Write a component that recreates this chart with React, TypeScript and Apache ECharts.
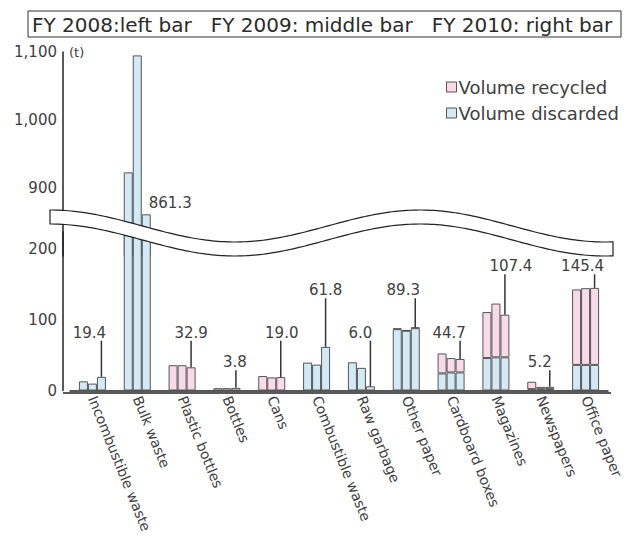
import React, { useEffect, useRef } from "react";
import * as echarts from "echarts";

const categories = [
  "Incombustible waste",
  "Bulk waste",
  "Plastic bottles",
  "Bottles",
  "Cans",
  "Combustible waste",
  "Raw garbage",
  "Other paper",
  "Cardboard boxes",
  "Magazines",
  "Newspapers",
  "Office paper",
];

const discarded2008 = [13.0, 923, 0, 0, 0, 39.5, 40.0, 86.9, 24.2, 46.0, 1.9, 36.3];
const discarded2009 = [9.8, 1095, 0, 0, 0, 36.7, 32.1, 84.6, 25.6, 47.0, 1.9, 36.3];
const discarded2010 = [19.4, 861.3, 0, 0, 0, 61.8, 6.0, 88.3, 25.6, 47.0, 2.0, 36.3];

const recycled2008 = [0, 0, 35.8, 3.3, 20.5, 0, 0, 1.0, 28.3, 65.1, 10.5, 106.9];
const recycled2009 = [0, 0, 35.8, 3.3, 18.6, 0, 0, 1.0, 20.4, 76.2, 3.3, 108.7];
const recycled2010 = [0, 0, 32.9, 3.8, 19.0, 0, 0, 1.0, 19.1, 60.4, 3.2, 109.1];

const lowerTicks = [0, 100, 200];
const upperTicks = [900, 1000, 1100];

const titleText = "FY 2008:left bar   FY 2009: middle bar   FY 2010: right bar";

// layout (callout heights in data units, horizontal nudges in px)
const calloutLevel: (number | null)[] = [82, null, 82, 40, 82, 142, 82, 142, 82, 176, 40, 176];
const calloutDx = [-12, 0, 0, -1, 1, 0, -10, -12, -11, 6, -10, -12];

const BLUE = "#d3eaf6";
const PINK = "#f8dbe7";
const BORDER = "#555555";
const TEXT = "#404040";
const FONT = "DejaVu Sans";
const BAR_W = 9;
const UPPER_MIN = 800;
const LOWER_MAX = 224.5;

export default function App() {
  const ref = useRef<HTMLDivElement>(null);

  useEffect(() => {
    if (!ref.current) return;
    const chart = echarts.init(ref.current, null, { renderer: "svg" });

    const years = [
      { key: "2008", d: discarded2008, r: recycled2008 },
      { key: "2009", d: discarded2009, r: recycled2009 },
      { key: "2010", d: discarded2010, r: recycled2010 },
    ];
    const nz = (a: number[]) => a.map((v) => (v > 0 ? v : "-"));

    const upperSeries = years.map((y, k) => ({
      type: "bar",
      name: "Volume discarded",
      xAxisIndex: 1,
      yAxisIndex: 1,
      barWidth: BAR_W,
      barGap: "0%",
      clip: true,
      data: y.d.map((v) => (v > UPPER_MIN ? v : "-")),
      itemStyle: { color: BLUE, borderColor: BORDER, borderWidth: 1 },
      label:
        k === 2
          ? {
              show: true,
              position: [7, -19],
              formatter: (p: any) => Number(p.value).toFixed(1),
              fontFamily: FONT,
              fontSize: 15,
              color: TEXT,
            }
          : { show: false },
    }));

    const lowerSeries: any[] = [];
    years.forEach((y) => {
      lowerSeries.push({
        type: "bar",
        name: "Volume discarded",
        stack: "s" + y.key,
        xAxisIndex: 0,
        yAxisIndex: 0,
        barWidth: BAR_W,
        barGap: "0%",
        clip: true,
        data: nz(y.d),
        itemStyle: { color: BLUE, borderColor: BORDER, borderWidth: 1 },
      });
      lowerSeries.push({
        type: "bar",
        name: "Volume recycled",
        stack: "s" + y.key,
        xAxisIndex: 0,
        yAxisIndex: 0,
        barWidth: BAR_W,
        barGap: "0%",
        clip: true,
        data: nz(y.r),
        itemStyle: { color: PINK, borderColor: BORDER, borderWidth: 1 },
      });
    });

    const totals2010 = discarded2010.map((v, i) => v + recycled2010[i]);
    const calloutData = categories
      .map((_, i) => [i, totals2010[i], calloutLevel[i]])
      .filter((d) => d[2] !== null);

    const calloutSeries = {
      type: "custom",
      name: "callouts",
      xAxisIndex: 0,
      yAxisIndex: 0,
      silent: true,
      clip: false,
      z: 10,
      data: calloutData,
      encode: { x: 0, y: 1 },
      renderItem: (params: any, api: any) => {
        const i = api.value(0);
        const total = api.value(1);
        const level = api.value(2);
        const top = api.coord([i, total]);
        const lab = api.coord([i, level]);
        const x = top[0] + BAR_W;
        return {
          type: "group",
          children: [
            {
              type: "line",
              shape: { x1: x, y1: lab[1] + 8, x2: x, y2: top[1] },
              style: { stroke: "#333", lineWidth: 1.5 },
            },
            {
              type: "text",
              x: x + calloutDx[i],
              y: lab[1],
              style: {
                text: Number(total).toFixed(1),
                fill: TEXT,
                fontFamily: FONT,
                fontSize: 15,
                align: "center",
                verticalAlign: "middle",
              },
            },
          ],
        };
      },
    };

    // wave (axis break) outline
    const waveTop = (x: number) => 226 - 16 * Math.cos((2 * Math.PI * (x - 50)) / 370);
    const topPts: number[][] = [];
    const botPts: number[][] = [];
    for (let x = 50; x <= 613; x += 3) {
      topPts.push([x, waveTop(x)]);
      botPts.push([x, waveTop(x) + 14]);
    }
    topPts.push([613, waveTop(613)]);
    botPts.push([613, waveTop(613) + 14]);
    const poly = topPts.concat(botPts.slice().reverse());

    const commaFmt = (v: number) => v.toLocaleString("en-US");

    chart.setOption({
      animation: false,
      backgroundColor: "#ffffff",
      textStyle: { fontFamily: FONT },
      legend: {
        data: ["Volume recycled", "Volume discarded"],
        orient: "vertical",
        left: 446,
        top: 78,
        padding: 0,
        itemWidth: 10,
        itemHeight: 10,
        itemGap: 8,
        icon: "rect",
        selectedMode: false,
        itemStyle: { borderColor: BORDER, borderWidth: 1 },
        textStyle: { fontFamily: FONT, fontSize: 18, color: TEXT, lineHeight: 17, padding: [0, 0, 0, -3] },
      },
      grid: [
        { left: 70, right: 22, top: 393 - LOWER_MAX * 0.717, height: LOWER_MAX * 0.717 },
        { left: 70, right: 22, top: 52, height: 204 },
      ],
      xAxis: [
        {
          type: "category",
          gridIndex: 0,
          data: categories,
          axisLine: { lineStyle: { color: "#222", width: 1.5 } },
          axisTick: { show: false },
          axisLabel: {
            interval: 0,
            rotate: -68,
            margin: 6,
            fontFamily: FONT,
            fontSize: 14,
            color: TEXT,
          },
        },
        { type: "category", gridIndex: 1, data: categories, show: false },
      ],
      yAxis: [
        {
          type: "value",
          gridIndex: 0,
          min: lowerTicks[0],
          max: LOWER_MAX,
          interval: lowerTicks[1] - lowerTicks[0],
          offset: 7,
          axisLine: { show: true, lineStyle: { color: "#222", width: 1.5 } },
          axisTick: { show: false },
          splitLine: { show: false },
          axisLabel: {
            margin: 6,
            fontFamily: FONT,
            fontSize: 15,
            color: TEXT,
            showMaxLabel: false,
            formatter: (v: number) => (lowerTicks.includes(v) ? commaFmt(v) : ""),
          },
        },
        {
          type: "value",
          gridIndex: 1,
          min: UPPER_MIN,
          max: upperTicks[upperTicks.length - 1],
          interval: 100,
          offset: 7,
          name: "(t)",
          nameLocation: "end",
          nameGap: 0,
          nameTextStyle: {
            align: "left",
            verticalAlign: "middle",
            padding: [0, 0, 0, 6],
            fontFamily: FONT,
            fontSize: 13,
            color: TEXT,
          },
          axisLine: { show: true, lineStyle: { color: "#222", width: 1.5 } },
          axisTick: { show: false },
          splitLine: { show: false },
          axisLabel: {
            margin: 6,
            fontFamily: FONT,
            fontSize: 15,
            color: TEXT,
            showMinLabel: false,
            formatter: (v: number) => (upperTicks.includes(v) ? commaFmt(v) : ""),
          },
        },
      ],
      series: [...upperSeries, ...lowerSeries, calloutSeries],
      graphic: [
        {
          type: "line",
          z: 5,
          shape: { x1: 63, y1: 393, x2: 611, y2: 393 },
          style: { stroke: "#222", lineWidth: 1.5 },
        },
        {
          type: "polygon",
          z: 100,
          shape: { points: poly },
          style: { fill: "#ffffff", stroke: "#222", lineWidth: 1.2 },
        },
        {
          type: "rect",
          z: 100,
          shape: { x: 28, y: 11, width: 593, height: 26 },
          style: { fill: "#ffffff", stroke: "#333", lineWidth: 1 },
        },
        {
          type: "text",
          z: 101,
          x: 32,
          y: 24.5,
          style: {
            text: titleText,
            fill: "#2a2a2a",
            fontFamily: FONT,
            fontSize: 20,
            verticalAlign: "middle",
          },
        },
      ],
    });

    return () => chart.dispose();
  }, []);

  return (
    <div
      ref={ref}
      style={{ position: "fixed", left: 0, top: 0, width: 630, height: 536 }}
    />
  );
}
